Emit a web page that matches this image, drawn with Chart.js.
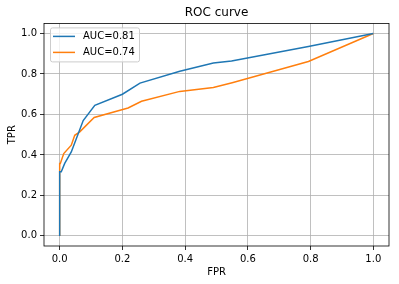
<!DOCTYPE html>
<html>
<head>
<meta charset="utf-8">
<script src="https://cdn.jsdelivr.net/npm/chart.js@4"></script>
<style>
  html, body { margin: 0; padding: 0; background: #fff; }
  #wrap { width: 399px; height: 284px; }
</style>
</head>
<body>
<div id="wrap"><canvas id="roc"></canvas></div>
<script>
// ROC curve data
const fprA = [0, 0, 0.005, 0.016, 0.037, 0.075, 0.112, 0.2, 0.256, 0.383, 0.49, 0.548, 0.793, 1];
const tprA = [0, 0.317, 0.317, 0.358, 0.415, 0.57, 0.645, 0.70, 0.755, 0.814, 0.854, 0.864, 0.936, 1];
const fprB = [0, 0, 0.002, 0.013, 0.037, 0.048, 0.064, 0.11, 0.218, 0.261, 0.383, 0.49, 0.55, 0.793, 1];
const tprB = [0, 0.358, 0.358, 0.407, 0.448, 0.497, 0.514, 0.585, 0.632, 0.665, 0.714, 0.733, 0.757, 0.862, 1];
const labels = ['AUC=0.81', 'AUC=0.74'];
const colors = ['#1f77b4', '#ff7f0e'];
const tickVals = [0, 0.2, 0.4, 0.6, 0.8, 1.0];

const FONT = 'DejaVu Sans';

function pts(xs, ys) {
  return xs.map((x, i) => ({ x: x, y: ys[i] }));
}

// box around the plot and the legend inside it
const framePlugin = {
  id: 'frame',
  afterDatasetsDraw(chart) {
    const { ctx, chartArea: a } = chart;
    ctx.save();
    ctx.strokeStyle = '#000';
    ctx.lineWidth = 0.8;
    ctx.strokeRect(a.left, a.top, a.right - a.left, a.bottom - a.top);

    // legend
    const bx = a.left + 6, by = a.top + 4, bw = 89, bh = 34;
    ctx.fillStyle = 'rgba(255,255,255,0.8)';
    ctx.strokeStyle = '#cccccc';
    ctx.lineWidth = 1;
    ctx.beginPath();
    ctx.roundRect(bx + 0.5, by + 0.5, bw, bh, 2);
    ctx.fill();
    ctx.stroke();
    ctx.font = '10px ' + FONT;
    ctx.textBaseline = 'middle';
    chart.data.datasets.forEach((ds, i) => {
      const y = by + 9 + i * 16;
      ctx.strokeStyle = ds.borderColor;
      ctx.lineWidth = 1.5;
      ctx.beginPath();
      ctx.moveTo(bx + 3, y);
      ctx.lineTo(bx + 25, y);
      ctx.stroke();
      ctx.fillStyle = '#000';
      ctx.fillText(ds.label, bx + 33, y);
    });
    ctx.restore();
  }
};

const axisCommon = {
  type: 'linear',
  min: -0.05,
  max: 1.05,
  afterBuildTicks: scale => { scale.ticks = tickVals.map(v => ({ value: v })); },
  grid: { color: '#b0b0b0', lineWidth: 0.8, tickColor: '#000', tickLength: 4, drawTicks: true },
  border: { display: false },
  ticks: {
    color: '#000',
    font: { family: FONT, size: 10 },
    padding: 3,
    callback: v => v.toFixed(1)
  }
};

new Chart(document.getElementById('roc'), {
  type: 'scatter',
  data: {
    datasets: [
      { label: labels[0], data: pts(fprA, tprA), borderColor: colors[0], backgroundColor: colors[0] },
      { label: labels[1], data: pts(fprB, tprB), borderColor: colors[1], backgroundColor: colors[1] }
    ]
  },
  options: {
    responsive: true,
    maintainAspectRatio: false,
    animation: false,
    showLine: true,
    elements: {
      point: { radius: 0, hoverRadius: 0 },
      line: { borderWidth: 1.5, tension: 0 }
    },
    layout: { padding: { top: 0, right: 10, bottom: 0, left: 0 } },
    plugins: {
      legend: { display: false },
      tooltip: { enabled: false },
      title: {
        display: true,
        fullSize: false,
        text: 'ROC curve',
        color: '#000',
        font: { family: FONT, size: 12, weight: 'normal' },
        padding: { top: 6, bottom: 3 }
      }
    },
    scales: {
      x: Object.assign({}, axisCommon, {
        title: { display: true, text: 'FPR', color: '#000', font: { family: FONT, size: 10 }, padding: { top: 0, bottom: 6 } },
        afterFit: s => { s.height = 38; }
      }),
      y: Object.assign({}, axisCommon, {
        title: { display: true, text: 'TPR', color: '#000', font: { family: FONT, size: 10 }, padding: { top: 6, bottom: 0 } },
        afterFit: s => { s.width = 44; }
      })
    }
  },
  plugins: [framePlugin]
});
</script>
</body>
</html>
